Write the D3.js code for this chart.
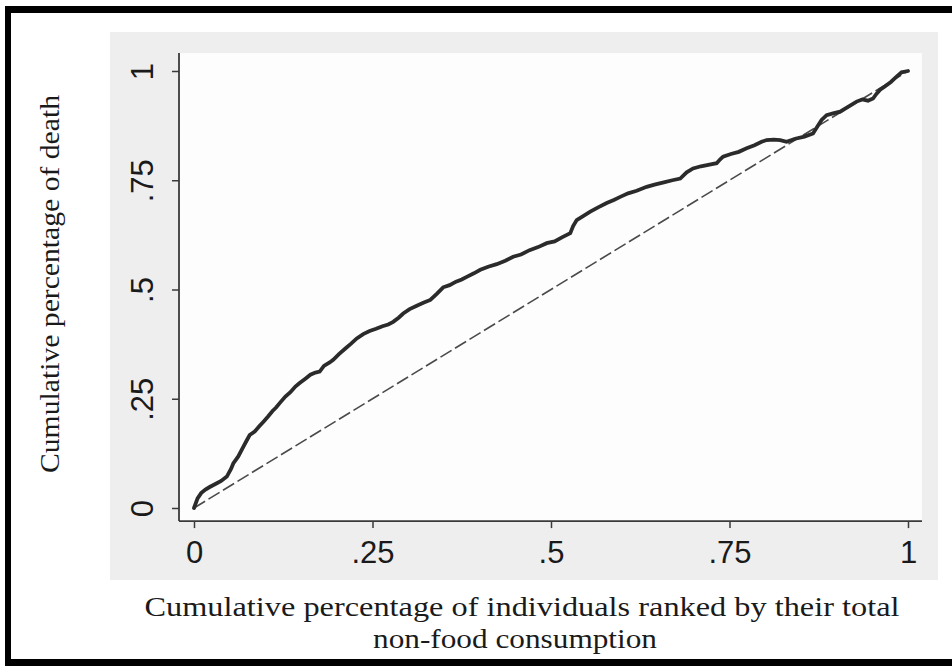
<!DOCTYPE html>
<html>
<head>
<meta charset="utf-8">
<script src="https://cdn.jsdelivr.net/npm/d3@7"></script>
<style>
  html, body { margin: 0; padding: 0; background: #fff; }
  svg { display: block; }
</style>
</head>
<body>
<svg id="chart" width="952" height="666"></svg>
<script>
// ---- data ----
const shareIndividuals = [0, 0.005, 0.01, 0.016, 0.022, 0.03, 0.038, 0.046, 0.052, 0.055, 0.062, 0.069, 0.074, 0.078, 0.085, 0.092, 0.097, 0.104, 0.11, 0.115, 0.12, 0.128, 0.135, 0.142, 0.148, 0.156, 0.163, 0.17, 0.176, 0.182, 0.19, 0.195, 0.203, 0.212, 0.22, 0.228, 0.237, 0.246, 0.255, 0.264, 0.272, 0.279, 0.287, 0.293, 0.302, 0.312, 0.322, 0.331, 0.34, 0.349, 0.358, 0.367, 0.375, 0.382, 0.392, 0.401, 0.412, 0.424, 0.436, 0.447, 0.458, 0.47, 0.482, 0.494, 0.505, 0.516, 0.527, 0.531, 0.536, 0.545, 0.555, 0.566, 0.578, 0.588, 0.597, 0.608, 0.62, 0.634, 0.645, 0.658, 0.67, 0.681, 0.69, 0.699, 0.71, 0.722, 0.732, 0.737, 0.741, 0.752, 0.763, 0.774, 0.785, 0.795, 0.802, 0.812, 0.821, 0.83, 0.842, 0.855, 0.867, 0.872, 0.879, 0.886, 0.895, 0.905, 0.916, 0.928, 0.936, 0.944, 0.951, 0.956, 0.961, 0.968, 0.976, 0.984, 0.991, 1.0];
const shareDeath = [0, 0.022, 0.034, 0.042, 0.048, 0.055, 0.062, 0.072, 0.09, 0.102, 0.118, 0.14, 0.155, 0.167, 0.175, 0.188, 0.197, 0.21, 0.222, 0.23, 0.24, 0.255, 0.265, 0.278, 0.286, 0.296, 0.305, 0.31, 0.312, 0.325, 0.333, 0.339, 0.352, 0.365, 0.376, 0.388, 0.398, 0.405, 0.41, 0.416, 0.42, 0.426, 0.436, 0.445, 0.455, 0.463, 0.47, 0.476, 0.49, 0.505, 0.51, 0.518, 0.523, 0.529, 0.537, 0.545, 0.552, 0.558, 0.566, 0.575, 0.58, 0.59, 0.597, 0.606, 0.61, 0.62, 0.629, 0.645, 0.659, 0.668, 0.678, 0.688, 0.698, 0.705, 0.712, 0.72, 0.726, 0.735, 0.74, 0.745, 0.75, 0.754, 0.768, 0.777, 0.782, 0.786, 0.789, 0.798, 0.804, 0.81, 0.815, 0.823, 0.83, 0.838, 0.842, 0.843, 0.842, 0.838, 0.845, 0.85, 0.857, 0.87, 0.888, 0.899, 0.903, 0.907, 0.918, 0.93, 0.935, 0.932, 0.937, 0.948, 0.957, 0.965, 0.975, 0.987, 0.997, 1.0];
const equalityLine = [[0, 0], [1, 1]];
const xTicks = [0, 0.25, 0.5, 0.75, 1];
const yTicks = [0, 0.25, 0.5, 0.75, 1];
const xTitleLines = ["Cumulative percentage of individuals ranked by their total", "non-food consumption"];
const yTitle = "Cumulative percentage of death";

// ---- layout ----
const svg = d3.select("#chart");
const x = d3.scaleLinear().domain([0, 1]).range([194, 908]);
const y = d3.scaleLinear().domain([0, 1]).range([508, 71]);
const xLo = -0.021, xHi = 1.0196, yLo = -0.03, yHi = 1.041;

const fmt = d => d === 0 ? "0" : d === 1 ? "1" : String(d).replace(/^0/, "");

// background panels
svg.append("rect").attr("x", 0).attr("y", 0).attr("width", 952).attr("height", 666).attr("fill", "#ffffff");
svg.append("rect").attr("x", 110).attr("y", 32).attr("width", 828).attr("height", 548).attr("fill", "#eeeeee");
svg.append("rect")
  .attr("x", x(xLo)).attr("y", y(yHi))
  .attr("width", x(xHi) - x(xLo)).attr("height", y(yLo) - y(yHi))
  .attr("fill", "#fdfdfd");

// black frame (left, top, bottom)
svg.append("rect").attr("x", 5).attr("y", 6).attr("width", 947).attr("height", 7).attr("fill", "#000");
svg.append("rect").attr("x", 5).attr("y", 6).attr("width", 6).attr("height", 660).attr("fill", "#000");
svg.append("rect").attr("x", 5).attr("y", 659).attr("width", 947).attr("height", 7).attr("fill", "#000");

// axes
const axisColor = "#3a3a3a";
const xAxis = svg.append("g").attr("transform", `translate(0,${y(yLo)})`)
  .call(d3.axisBottom(x).tickValues(xTicks).tickFormat(fmt).tickSize(7).tickSizeOuter(0));
xAxis.select(".domain").remove();
xAxis.append("line").attr("x1", x(xLo)).attr("x2", x(xHi)).attr("y1", 0).attr("y2", 0)
  .attr("stroke", axisColor).attr("stroke-width", 1.8);
xAxis.selectAll(".tick line").attr("stroke", axisColor).attr("stroke-width", 1.5);
xAxis.selectAll(".tick text")
  .attr("y", 42).attr("dy", 0)
  .attr("fill", "#1a1a1a")
  .style("font-family", "'Liberation Sans', Arial, sans-serif")
  .style("font-size", "31px");

const yAxis = svg.append("g").attr("transform", `translate(${x(xLo)},0)`)
  .call(d3.axisLeft(y).tickValues(yTicks).tickFormat(fmt).tickSize(7).tickSizeOuter(0));
yAxis.select(".domain").remove();
yAxis.append("line").attr("x1", 0).attr("x2", 0).attr("y1", y(yLo)).attr("y2", y(yHi))
  .attr("stroke", axisColor).attr("stroke-width", 1.8);
yAxis.selectAll(".tick line").attr("stroke", axisColor).attr("stroke-width", 1.5);
yAxis.selectAll(".tick text")
  .attr("transform", "rotate(-90)")
  .attr("x", 0).attr("y", -26).attr("dy", 0)
  .attr("text-anchor", "middle")
  .attr("fill", "#1a1a1a")
  .style("font-family", "'Liberation Sans', Arial, sans-serif")
  .style("font-size", "31px");

// equality line (dashed)
svg.append("path")
  .datum(equalityLine)
  .attr("d", d3.line().x(d => x(d[0])).y(d => y(d[1])))
  .attr("fill", "none")
  .attr("stroke", "#4a4a4a")
  .attr("stroke-width", 1.6)
  .attr("stroke-dasharray", "13,4");

// concentration curve
const curveData = shareIndividuals.map((v, i) => [v, shareDeath[i]]);
svg.append("path")
  .datum(curveData)
  .attr("d", d3.line().x(d => x(d[0])).y(d => y(d[1])))
  .attr("fill", "none")
  .attr("stroke", "#2b2b2b")
  .attr("stroke-width", 3.8)
  .attr("stroke-linejoin", "miter")
  .attr("stroke-linecap", "round");

// axis titles
const serif = "'Liberation Serif', 'Times New Roman', serif";
svg.append("text")
  .attr("x", 522).attr("y", 616)
  .attr("text-anchor", "middle")
  .attr("textLength", 755).attr("lengthAdjust", "spacingAndGlyphs")
  .attr("fill", "#1a1a1a")
  .style("font-family", serif).style("font-size", "27px")
  .text(xTitleLines[0]);
svg.append("text")
  .attr("x", 515).attr("y", 648)
  .attr("text-anchor", "middle")
  .attr("textLength", 284).attr("lengthAdjust", "spacingAndGlyphs")
  .attr("fill", "#1a1a1a")
  .style("font-family", serif).style("font-size", "27px")
  .text(xTitleLines[1]);
svg.append("text")
  .attr("transform", "translate(59,284) rotate(-90)")
  .attr("text-anchor", "middle")
  .attr("textLength", 378).attr("lengthAdjust", "spacingAndGlyphs")
  .attr("fill", "#1a1a1a")
  .style("font-family", serif).style("font-size", "27px")
  .text(yTitle);
</script>
</body>
</html>
